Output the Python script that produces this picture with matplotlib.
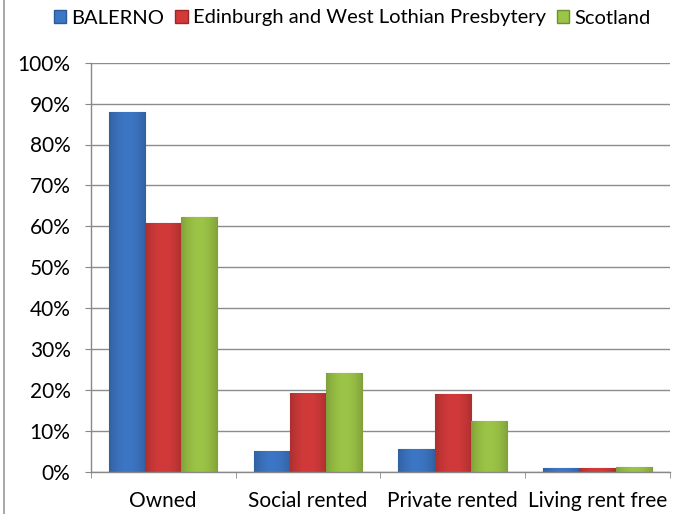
import matplotlib
matplotlib.use("Agg")
import matplotlib.pyplot as plt
import numpy as np
from matplotlib.patches import Patch
from matplotlib.ticker import PercentFormatter
from matplotlib.colors import to_rgb

categories = ["Owned", "Social rented", "Private rented", "Living rent free"]
series_names = ["BALERNO", "Edinburgh and West Lothian Presbytery", "Scotland"]
balerno = [88.0, 5.1, 5.6, 0.9]
edinburgh = [60.7, 19.3, 19.0, 0.9]
scotland = [62.2, 24.2, 12.5, 1.2]
yticks = [0, 10, 20, 30, 40, 50, 60, 70, 80, 90, 100]

colors = ["#3C76C4", "#D23A3A", "#9CC446"]
edges = ["#2A5A9A", "#9E2828", "#6F8F2E"]

plt.rcParams['font.family'] = ['Lato', 'DejaVu Sans']

fig = plt.figure(figsize=(6.82, 5.14), dpi=100)
ax = fig.add_axes([90.7/682, 1 - 471.7/514, (670-90.7)/682, (471.7-62.7)/514])

x = np.arange(len(categories))
w = 0.25
for i, (vals, c, e) in enumerate(zip([balerno, edinburgh, scotland], colors, edges)):
    bars = ax.bar(x + (i - 1) * w, vals, width=w, color=c, edgecolor=e, linewidth=0.8, zorder=3)
    base = np.array(to_rgb(c))
    prof = np.linspace(-1, 1, 64)
    shade = 1.0 - 0.18 * prof ** 2
    grad = np.clip(base[None, :] * shade[:, None], 0, 1)[None, :, :]
    for b in bars:
        bx, by = b.get_x(), b.get_y()
        bw, bh = b.get_width(), b.get_height()
        im = ax.imshow(grad, extent=[bx, bx + bw, by, by + bh], aspect='auto',
                       zorder=3.5, interpolation='bilinear')
        im.set_clip_path(b)

ax.set_xlim(-0.5, len(categories) - 0.5)
ax.set_ylim(0, 100)
ax.set_yticks(yticks)
ax.yaxis.set_major_formatter(PercentFormatter(decimals=0))
ax.set_xticks(x)
ax.set_xticklabels(categories)
ax.set_xticks(np.arange(len(categories) + 1) - 0.5, minor=True)
ax.tick_params(axis='x', which='major', length=0, pad=14, labelsize=15, colors='black')
ax.tick_params(axis='x', which='minor', length=4.5, color='#888888', direction='out')
ax.tick_params(axis='y', length=4.5, color='#888888', labelsize=15, pad=10)
ax.grid(axis='y', color='#8C8C8C', linewidth=1.0, zorder=0)
for s in ['top', 'right']:
    ax.spines[s].set_visible(False)
for s in ['left', 'bottom']:
    ax.spines[s].set_color('#888888')
    ax.spines[s].set_linewidth(1.0)
    ax.spines[s].set_zorder(4)

handles = [Patch(facecolor=c, edgecolor=e) for c, e in zip(colors, edges)]
fig.legend(handles, series_names, loc='center', bbox_to_anchor=(352/682, 1 - 18/514),
           ncol=3, frameon=False, fontsize=14.5, handlelength=0.62, handleheight=0.62,
           handletextpad=0.25, columnspacing=0.55, borderaxespad=0, borderpad=0)

fig.add_artist(plt.Line2D([4/682, 4/682], [0, 1], color='#999999', linewidth=1.2, transform=fig.transFigure))

fig.savefig("out.png", dpi=100)
